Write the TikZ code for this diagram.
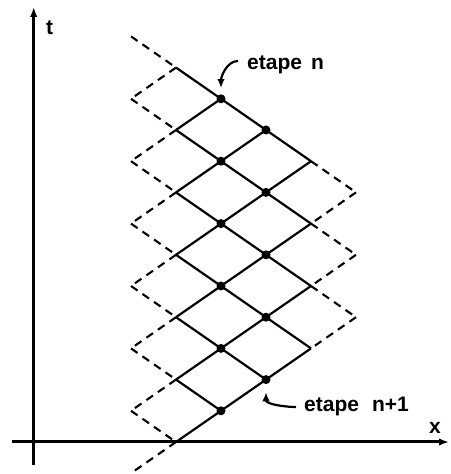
\documentclass[tikz,border=0pt]{standalone}
\usepackage{fontspec}
\setmainfont{Liberation Sans}
\usetikzlibrary{arrows.meta}
\begin{document}
\begin{tikzpicture}[x=1pt,y=1pt,
  lattice/.style={line width=2.2pt},
  dashline/.style={line width=2.1pt, dash pattern=on 8pt off 6pt},
  axis/.style={line width=3pt, -{Latex[length=10pt,width=7.5pt]}},
  dot/.style={circle, fill=black, inner sep=0pt, minimum size=9pt},
  lbl/.style={font=\fontsize{21}{24}\selectfont\bfseries, inner sep=0pt},
  pointer/.style={line width=2.2pt, -{Latex[length=9pt,width=7.5pt]}}]
\useasboundingbox (0,0) rectangle (450,474);
% lattice coordinates
\foreach \j in {-1,...,4}{
  \foreach \k in {-1,...,13}{
    \coordinate (p\j-\k) at ({176+45*\j},{32+31.2*\k});
  }
}
% axes
\coordinate (xs) at (12,32);
\coordinate (xe) at (449,32);
\coordinate (ts) at (33.7,9);
\coordinate (te) at (33.7,467);
\draw[axis] (xs) -- (xe);
\draw[axis] (ts) -- (te);
\node[lbl, anchor=base west] (tl) at (46,439) {t};
\node[lbl, anchor=base west] (xl) at (429,40) {x};
% solid lattice lines
\draw[lattice] (p0-12) -- (p3-9);
\draw[lattice] (p0-10) -- (p3-7);
\draw[lattice] (p0-8) -- (p3-5);
\draw[lattice] (p0-6) -- (p3-3);
\draw[lattice] (p0-4) -- (p2-2);
\draw[lattice] (p0-2) -- (p1-1);
\draw[lattice] (p0-0) -- (p3-3);
\draw[lattice] (p0-2) -- (p3-5);
\draw[lattice] (p0-4) -- (p3-7);
\draw[lattice] (p0-6) -- (p3-9);
\draw[lattice] (p0-8) -- (p2-10);
\draw[lattice] (p0-10) -- (p1-11);
% dashed left zigzag
\foreach \m in {0,...,6}{
  \pgfmathtruncatemacro{\ka}{2*\m+1}
  \pgfmathtruncatemacro{\kb}{2*\m}
  \pgfmathtruncatemacro{\kc}{2*\m-1}
  \draw[dashline] (p-1-\ka) -- (p0-\kb);
  \draw[dashline] (p0-\kb) -- (p-1-\kc);
}
% dashed right zigzag
\draw[dashline] (p3-9) -- (p4-8);
\draw[dashline] (p4-8) -- (p3-7);
\draw[dashline] (p3-7) -- (p4-6);
\draw[dashline] (p4-6) -- (p3-5);
\draw[dashline] (p3-5) -- (p4-4);
\draw[dashline] (p4-4) -- (p3-3);
% dots
\foreach \k in {1,3,5,7,9,11}{ \node[dot] (d1-\k) at (p1-\k) {}; }
\foreach \k in {2,4,6,8,10}{ \node[dot] (d2-\k) at (p2-\k) {}; }
% labels
\node[lbl, anchor=base west] (ln) at (247,404) {etape\hspace{9pt}n};
\node[lbl, anchor=base west] (lm) at (304,62) {etape\hspace{13pt}n+1};
\draw[pointer] ([shift={(-9,9)}]ln.base west) to[out=180,in=90,looseness=0.9] ([yshift=6pt]d1-11.north);
\draw[pointer] ([shift={(-8,5)}]lm.base west) to[out=180,in=-90,looseness=0.9] ([yshift=-8pt]d2-2.south);
\end{tikzpicture}
\end{document}
